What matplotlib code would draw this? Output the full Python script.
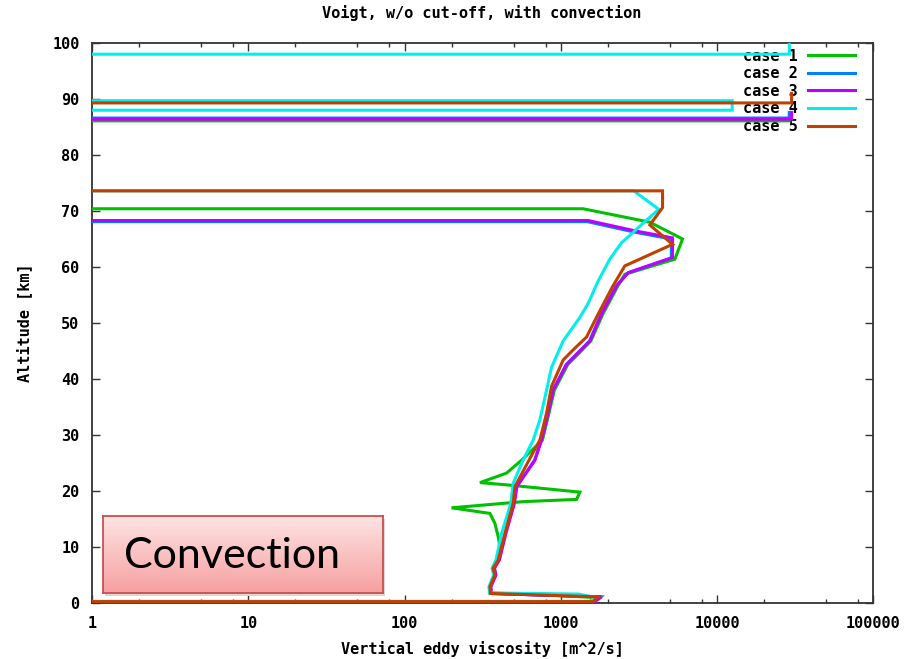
import numpy as np
import matplotlib
matplotlib.use('Agg')
import matplotlib.pyplot as plt
from matplotlib.ticker import LogLocator, FixedLocator, FixedFormatter, NullFormatter
from matplotlib.colors import LinearSegmentedColormap

# altitude [km] and vertical eddy viscosity [m^2/s], 0 = no value (drops off the log axis)
alt_case1 = [86.8, 86.1, 86.1, 70.4, 70.4, 68.0, 65.0, 61.4, 58.7, 56.6, 51.6, 46.8, 44.4, 42.6, 38.0, 32.7, 29.1, 25.5,
             23.2, 21.5, 21.1, 19.8, 18.5, 18.1, 17.0, 16.0, 14.2, 11.8, 10.0, 8.3, 7.1, 5.0, 2.9, 1.8, 1.3, 1.0, 0.25, 0.25]
visc_case1 = [29000, 29000, 0, 0, 1390, 3715, 6015, 5370, 2570, 2318, 1860, 1559, 1286, 1109, 910, 820, 763, 561,
              450, 304, 450, 1325, 1262, 575, 200, 352, 379, 398, 408, 398, 379, 376, 350, 352, 1000, 1600, 1550, 0]

alt_case2 = [87.6, 86.6, 86.6, 68.1, 68.1, 66.2, 65.0, 61.6, 58.9, 56.6, 51.6, 46.8, 44.4, 42.6, 38.0, 32.7, 29.1, 25.5,
             20.8, 17.8, 12.4, 7.7, 6.2, 5.0, 2.9, 1.7, 1.1, 0.25, 0.25]
visc_case2 = [29000, 29000, 0, 0, 1480, 3000, 5100, 5100, 2680, 2260, 1810, 1530, 1255, 1085, 890, 808, 750, 680,
              520, 502, 442, 402, 374, 383, 355, 358, 1800, 1640, 0]

alt_case3 = [87.6, 86.4, 86.4, 68.3, 68.3, 66.4, 65.2, 61.7, 59.0, 56.6, 51.6, 46.8, 44.4, 42.6, 38.0, 32.7, 29.1, 25.5,
             20.8, 17.8, 12.4, 7.7, 6.2, 5.0, 2.9, 1.7, 1.1, 0.25, 0.25]
visc_case3 = [30000, 30000, 0, 0, 1497, 3055, 5190, 5190, 2700, 2275, 1824, 1536, 1262, 1089, 894, 811, 754, 683,
              524, 505, 445, 405, 376, 385, 357, 360, 1824, 1652, 0]

alt_case4 = [100.0, 98.0, 98.0, 89.7, 89.7, 88.0, 88.0, 73.6, 73.6, 70.3, 67.3, 64.3, 61.4, 57.5, 53.5, 51.0, 46.8, 42.1,
             38.0, 32.7, 29.1, 25.5, 21.4, 17.8, 12.4, 7.7, 6.2, 5.0, 2.9, 1.8, 1.6, 1.0, 0.3, 0.3]
visc_case4 = [29000, 29000, 0, 0, 12500, 12500, 0, 0, 2930, 4240, 3210, 2445, 2060, 1735, 1497, 1325, 1036, 873,
              811, 735, 666, 574, 496, 479, 418, 385, 363, 372, 347, 350, 1300, 1650, 1550, 0]

alt_case5 = [91.0, 89.3, 89.3, 73.6, 73.6, 70.6, 67.5, 64.05, 60.2, 56.6, 51.6, 47.5, 45.2, 43.4, 38.7, 33.9, 29.1, 25.8,
             20.8, 17.8, 12.4, 7.7, 6.2, 5.0, 2.9, 1.7, 1.1, 0.25, 0.25]
visc_case5 = [30000, 30000, 0, 0, 4480, 4480, 3715, 5190, 2570, 2155, 1735, 1462, 1200, 1036, 873, 811, 735, 634,
              509, 496, 439, 398, 369, 379, 352, 355, 1735, 1611, 0]

labels = ['case 1', 'case 2', 'case 3', 'case 4', 'case 5']
colors = ['#00c000', '#0080ff', '#c000ff', '#00eeee', '#c04000']
x_ticks = [1, 10, 100, 1000, 10000, 100000]
x_ticklabels = ['1', '10', '100', '1000', '10000', '100000']
y_ticks = list(range(0, 101, 10))

mono = {'family': 'DejaVu Sans Mono', 'weight': 'bold', 'size': 11}

fig = plt.figure(figsize=(9.11, 6.59), dpi=100)
ax = fig.add_axes([92 / 911, 56 / 659, 781.3 / 911, 560 / 659])

profiles = [(visc_case1, alt_case1), (visc_case2, alt_case2), (visc_case3, alt_case3),
            (visc_case4, alt_case4), (visc_case5, alt_case5)]
for (v, a), lab, c in zip(profiles, labels, colors):
    ax.plot(v, a, color=c, lw=2.2, label=lab, zorder=3, solid_joinstyle='miter')

ax.set_xscale('log')
ax.set_xlim(1, 100000)
ax.set_ylim(0, 100)
ax.xaxis.set_major_locator(FixedLocator(x_ticks))
ax.xaxis.set_major_formatter(FixedFormatter(x_ticklabels))
ax.xaxis.set_minor_locator(LogLocator(base=10, subs=[2, 5, 8]))
ax.xaxis.set_minor_formatter(NullFormatter())
ax.set_yticks(y_ticks)
ax.tick_params(which='both', direction='in', top=True, right=True, color='#333333')
ax.tick_params(which='major', length=6, width=1, pad=9)
ax.tick_params(which='minor', length=3, width=1)
for lab in ax.get_xticklabels() + ax.get_yticklabels():
    lab.set_fontproperties(mono)
for sp in ax.spines.values():
    sp.set_linewidth(1.3)
    sp.set_color('#333333')

leg = ax.legend(loc='upper right', bbox_to_anchor=(0.977, 0.99), frameon=False, markerfirst=False,
                prop=mono, handlelength=3.1, handletextpad=0.65, labelspacing=0.17, borderaxespad=0, borderpad=0)
leg.set_zorder(1)

fig.text(482 / 911, 1 - 13 / 659, 'Voigt, w/o cut-off, with convection', ha='center', va='center', fontdict=mono)
fig.text(482 / 911, 1 - 649 / 659, 'Vertical eddy viscosity [m^2/s]', ha='center', va='center', fontdict=mono)
fig.text(24 / 911, 1 - 323 / 659, 'Altitude [km]', ha='center', va='center', rotation=90, fontdict=mono)

# the pink "Convection" call-out box
shadow = fig.add_axes([105 / 911, (659 - 596) / 659, 280 / 911, 77 / 659])
shadow.set_facecolor('#d8d8d8')
shadow.set_xticks([])
shadow.set_yticks([])
for sp in shadow.spines.values():
    sp.set_visible(False)

box = fig.add_axes([103 / 911, (659 - 593) / 659, 280 / 911, 77 / 659])
pink = LinearSegmentedColormap.from_list('pink', ['#f7a0a0', '#fde3e3'])
box.imshow(np.linspace(0, 1, 100).reshape(-1, 1)[::-1], cmap=pink, aspect='auto', extent=[0, 1, 0, 1])
box.set_xticks([])
box.set_yticks([])
for sp in box.spines.values():
    sp.set_color('#c9504e')
    sp.set_linewidth(1.3)
box.text(0.075, 0.48, 'Convection', fontsize=31, family='Lato', color='black', ha='left', va='center')

plt.savefig('out.png', dpi=100)
